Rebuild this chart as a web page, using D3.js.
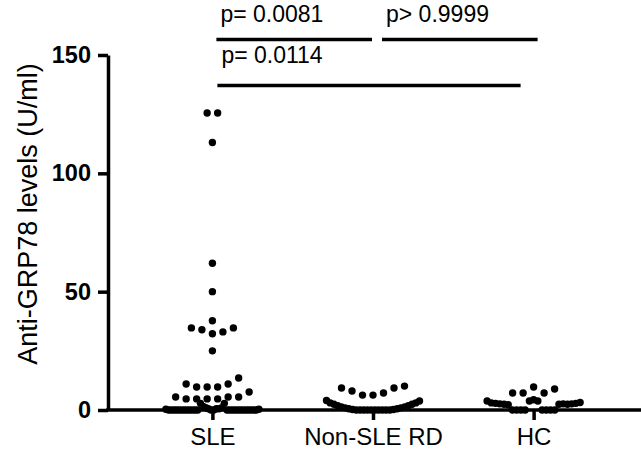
<!DOCTYPE html>
<html>
<head>
<meta charset="utf-8">
<script src="https://d3js.org/d3.v7.min.js"></script>
<style>
body { margin: 0; background: #fff; }
svg { font-family: Arial, "Liberation Sans", sans-serif; }
.axis path, .axis line { stroke: #000; stroke-width: 3.5; }
</style>
</head>
<body>
<svg id="chart"></svg>
<script>
// data, U/ml, in entry order (entry order decides left/right spread inside a row)
var groups = ["SLE", "Non-SLE RD", "HC"];
var sleValues = [
  0, 0, 0.5, 0.5, 1.0, 0.5, 1.5, 1.0, 2.8, 2.8,
  0, 0, 0, 0, 0, 0, 0, 0, 0, 0, 0, 0, 0, 0, 0, 0, 0, 0, 0, 0, 0, 0, 0, 0, 0.3, 0.3,
  4.7, 4.7, 4.7, 5.5, 4.7, 5.5, 5.5, 7.6,
  9.7, 9.7, 9.7, 11, 11, 13.5,
  25,
  32.2, 33.9, 33, 34.7, 34.7,
  37.7, 50, 62, 113, 125.5, 125.5
];
var nonSleValues = [
  0, 0, 0, 0, 0, 0, 0, 0, 0, 0, 0.2, 0.2, 0.5, 0.5, 0.9, 0.9, 1.3, 1.3, 1.8, 1.8, 2.4, 2.4, 3.0, 3.0, 4.0, 3.8,
  6.3, 6.3, 7.2, 8.0, 9.3, 9.3, 10.1
];
var hcValues = [
  4.3, 3.8, 3.8, 0, 0, 0, 0, 0, 0, 0, 0, 2.2, 2.4, 2.4, 2.6, 2.6, 2.4, 2.8, 2.6, 3.0, 2.8, 3.8, 3.2,
  9.7, 7.2, 7.2, 7.2, 8.9
];
var yTicks = [0, 50, 100, 150];
var comparisons = [
  {a: "SLE", b: "Non-SLE RD", label: "p= 0.0081"},
  {a: "Non-SLE RD", b: "HC", label: "p> 0.9999"},
  {a: "SLE", b: "HC", label: "p= 0.0114"}
];
var series = [sleValues, nonSleValues, hcValues];

var width = 641, height = 452;
var svg = d3.select("#chart").attr("width", width).attr("height", height);

var x = d3.scalePoint().domain(groups).range([108, 638]).padding(0.65);
var y = d3.scaleLinear().domain([0, 150]).range([410, 55]);

var r = 3.7, dotGap = 10.5, maxSpan = 93, rowHeight = 10.5;

// prism-like column scatter: values close in height share a row, spread from the centre out
function swarm(values, cx) {
  var pts = values.map(function(v, i) { return {v: v, i: i}; });
  var sorted = pts.slice().sort(function(a, b) { return a.v - b.v || a.i - b.i; });
  var rows = [], row = null;
  sorted.forEach(function(p) {
    if (!row || y(row[0].v) - y(p.v) >= rowHeight) { row = []; rows.push(row); }
    row.push(p);
  });
  rows.forEach(function(rw) {
    rw.sort(function(a, b) { return a.i - b.i; });
    var n = rw.length;
    var gap = n > 1 ? Math.min(dotGap, maxSpan / (n - 1)) : 0;
    rw.forEach(function(p, k) {
      var slot;
      if (n % 2) slot = k === 0 ? 0 : (k % 2 ? -Math.ceil(k / 2) : k / 2);
      else slot = (k % 2 ? 1 : -1) * (Math.floor(k / 2) + 0.5);
      p.x = cx + slot * gap;
      p.y = y(p.v);
    });
  });
  return pts;
}

// axes
var yAxis = svg.append("g").attr("class", "axis")
  .attr("transform", "translate(108,0)")
  .call(d3.axisLeft(y).tickValues(yTicks).tickSize(10).tickSizeOuter(0).tickPadding(7));
yAxis.selectAll("text").attr("font-size", 23.5).attr("font-weight", "bold")
  .attr("font-family", "Arial, 'Liberation Sans', sans-serif").attr("fill", "#000");

var xAxis = svg.append("g").attr("class", "axis")
  .attr("transform", "translate(0,410)")
  .call(d3.axisBottom(x).tickSize(10).tickSizeOuter(0).tickPadding(8));
xAxis.select(".domain").remove();
xAxis.selectAll("text").attr("font-size", 24)
  .attr("font-family", "Arial, 'Liberation Sans', sans-serif").attr("fill", "#000");
svg.append("line")
  .attr("x1", 106.25).attr("x2", width).attr("y1", y(0)).attr("y2", y(0))
  .attr("stroke", "#000").attr("stroke-width", 3.5);

svg.append("text")
  .attr("transform", "translate(37," + 214 + ") rotate(-90)")
  .attr("text-anchor", "middle")
  .attr("font-size", 27)
  .text("Anti-GRP78 levels (U/ml)");

// dots
groups.forEach(function(g, gi) {
  svg.append("g").selectAll("circle")
    .data(swarm(series[gi], x(g)))
    .enter().append("circle")
    .attr("cx", function(d) { return d.x; })
    .attr("cy", function(d) { return d.y; })
    .attr("r", r)
    .attr("fill", "#000");
});

// significance bars
var barY = [39.5, 39.5, 85.5];
var barOff = [[4, -1], [9, 4], [5, -13]];
comparisons.forEach(function(c, i) {
  var x1 = x(c.a) + barOff[i][0], x2 = x(c.b) + barOff[i][1];
  svg.append("line")
    .attr("x1", x1).attr("x2", x2).attr("y1", barY[i]).attr("y2", barY[i])
    .attr("stroke", "#000").attr("stroke-width", 3.5);
  svg.append("text")
    .attr("x", x1 + 4).attr("y", barY[i] - (i < 2 ? 17.8 : 22.2))
    .attr("font-size", 23)
    .text(c.label);
});
</script>
</body>
</html>
